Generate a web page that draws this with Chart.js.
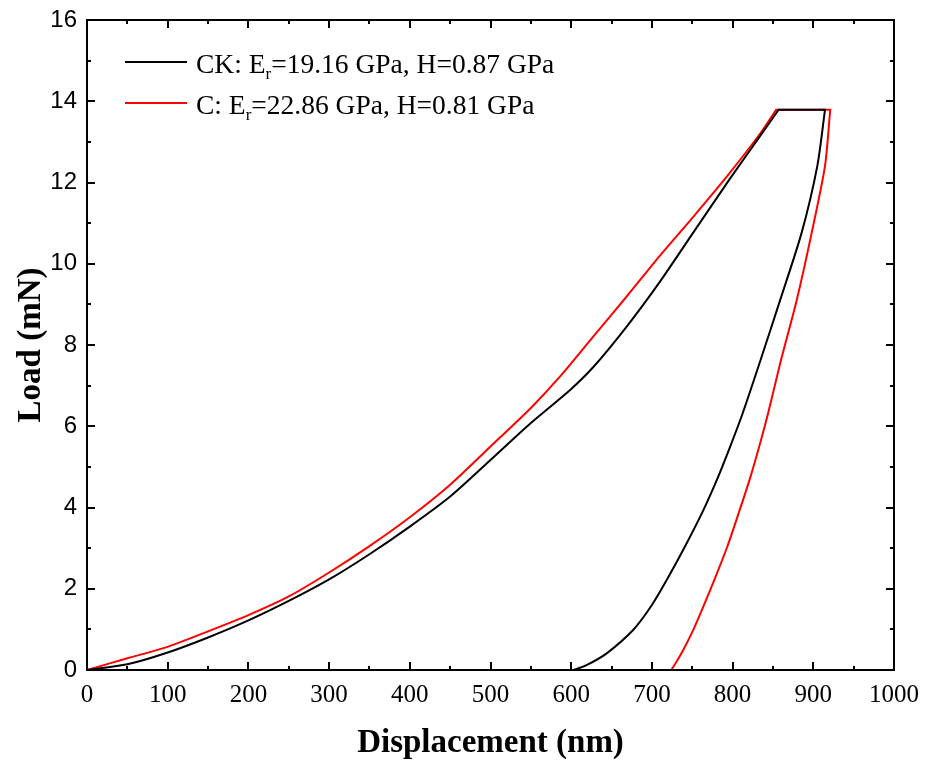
<!DOCTYPE html>
<html>
<head>
<meta charset="utf-8">
<script src="https://cdn.jsdelivr.net/npm/chart.js@4/dist/chart.umd.min.js"></script>
<style>
  body { margin: 0; background: #fff; }
  #wrap { width: 925px; height: 763px; }
</style>
</head>
<body>
<div id="wrap"><canvas id="lineChart"></canvas></div>
<script>
// CK sample: loading, hold (corner points repeated), unloading  (displacement nm / load mN)
var ckDisp = [0, 50, 100, 150, 200, 250, 300, 350, 400, 450, 500, 550, 599, 628, 669, 710, 751, 797, 834, 857, 857,
              914.5, 914.5, 905, 885.5, 859, 832, 812.5, 797, 780.5, 762, 741, 718.5, 700, 677, 644, 619, 603];
var ckLoad = [0, 0.14, 0.43, 0.8, 1.22, 1.7, 2.23, 2.85, 3.53, 4.27, 5.17, 6.08, 6.9, 7.47, 8.46, 9.56, 10.76, 12.1, 13.14, 13.79, 13.79,
              13.79, 13.79, 12.41, 10.76, 9.11, 7.47, 6.32, 5.5, 4.68, 3.86, 3.04, 2.22, 1.6, 0.99, 0.41, 0.12, 0];

// C sample
var cDisp = [0, 50, 100, 150, 200, 250, 300, 350, 400, 450, 500, 550, 586, 627, 669, 710, 751, 793, 834, 854, 854,
             921, 921, 914.5, 898, 879.5, 859, 844, 833, 821, 807.5, 793.5, 779, 765, 752, 739, 731, 724];
var cLoad = [0, 0.29, 0.57, 0.95, 1.35, 1.81, 2.4, 3.05, 3.76, 4.56, 5.5, 6.45, 7.22, 8.2, 9.2, 10.2, 11.15, 12.15, 13.2, 13.79, 13.79,
             13.79, 13.79, 12.41, 10.76, 9.11, 7.55, 6.32, 5.5, 4.68, 3.86, 3.04, 2.3, 1.62, 1.02, 0.5, 0.22, 0];

var xTicks = [0, 100, 200, 300, 400, 500, 600, 700, 800, 900, 1000];
var yTicks = [0, 2, 4, 6, 8, 10, 12, 14, 16];

// legend entries: prefix, subscript, rest
var legendItems = [
  { color: '#000000', pre: 'CK: E', sub: 'r', post: '=19.16 GPa, H=0.87 GPa' },
  { color: '#ff0000', pre: 'C: E', sub: 'r', post: '=22.86 GPa, H=0.81 GPa' }
];

function toPoints(xs, ys) {
  var pts = [];
  for (var i = 0; i < xs.length; i++) pts.push({ x: xs[i], y: ys[i] });
  return pts;
}

// frame + inward ticks on all four sides, plus the legend with subscripts
var framePlugin = {
  id: 'frame',
  afterDraw: function (chart) {
    var ctx = chart.ctx, a = chart.chartArea;
    var xs = chart.scales.x, ys = chart.scales.y;
    ctx.save();
    ctx.strokeStyle = '#000';
    ctx.lineWidth = 2;
    ctx.strokeRect(a.left, a.top, a.right - a.left, a.bottom - a.top);
    ctx.beginPath();
    for (var v = 0; v <= 1000; v += 50) {
      var px = Math.round(xs.getPixelForValue(v));
      var len = (v % 100 === 0) ? 8 : 4;
      ctx.moveTo(px, a.bottom); ctx.lineTo(px, a.bottom - len);
      ctx.moveTo(px, a.top); ctx.lineTo(px, a.top + len);
    }
    for (var w = 0; w <= 16; w += 1) {
      var py = Math.round(ys.getPixelForValue(w));
      var l2 = (w % 2 === 0) ? 8 : 4;
      ctx.moveTo(a.left, py); ctx.lineTo(a.left + l2, py);
      ctx.moveTo(a.right, py); ctx.lineTo(a.right - l2, py);
    }
    ctx.stroke();

    // legend
    var lx = 125, ly = 62;
    legendItems.forEach(function (it, i) {
      var y = ly + i * 41;
      ctx.strokeStyle = it.color;
      ctx.lineWidth = 2;
      ctx.beginPath();
      ctx.moveTo(lx, y); ctx.lineTo(lx + 62, y);
      ctx.stroke();
      ctx.fillStyle = '#000';
      ctx.textBaseline = 'alphabetic';
      ctx.textAlign = 'left';
      var tx = lx + 71, base = y + 11;
      ctx.font = '27.5px "Liberation Serif"';
      ctx.fillText(it.pre, tx, base);
      tx += ctx.measureText(it.pre).width;
      ctx.font = '17px "Liberation Serif"';
      ctx.fillText(it.sub, tx, base + 6);
      tx += ctx.measureText(it.sub).width;
      ctx.font = '27.5px "Liberation Serif"';
      ctx.fillText(it.post, tx, base);
    });
    ctx.restore();
  }
};

new Chart(document.getElementById('lineChart'), {
  type: 'scatter',
  data: {
    datasets: [
      { label: 'CK', data: toPoints(ckDisp, ckLoad), showLine: true, borderColor: '#000000',
        borderWidth: 2, pointRadius: 0, fill: false, tension: 0.25 },
      { label: 'C', data: toPoints(cDisp, cLoad), showLine: true, borderColor: '#ff0000',
        borderWidth: 2, pointRadius: 0, fill: false, tension: 0.25 }
    ]
  },
  options: {
    responsive: true,
    maintainAspectRatio: false,
    animation: false,
    layout: { padding: { left: 0, right: 31, top: 20, bottom: 0 } },
    plugins: { legend: { display: false }, tooltip: { enabled: false } },
    scales: {
      x: {
        type: 'linear', min: 0, max: 1000,
        afterBuildTicks: function (s) { s.ticks = xTicks.map(function (v) { return { value: v }; }); },
        afterFit: function (s) { s.height = 93; s.paddingLeft = 0; s.paddingRight = 0; },
        grid: { display: false, drawTicks: false },
        border: { display: false },
        ticks: { color: '#000', padding: 10, font: { family: 'Liberation Serif', size: 25 }, maxRotation: 0,
                 callback: function (v) { return String(v); } },
        title: { display: true, text: 'Displacement (nm)', color: '#000', padding: { top: 10, bottom: 0 },
                 font: { family: 'Liberation Serif', size: 33, weight: 'bold' } }
      },
      y: {
        type: 'linear', min: 0, max: 16,
        afterBuildTicks: function (s) { s.ticks = yTicks.map(function (v) { return { value: v }; }); },
        afterFit: function (s) { s.width = 87; s.paddingTop = 0; s.paddingBottom = 0; },
        grid: { display: false, drawTicks: false },
        border: { display: false },
        ticks: { color: '#000', padding: 10, font: { family: 'Liberation Sans', size: 24 },
                 callback: function (v) { return String(v); } },
        title: { display: true, text: 'Load (mN)', color: '#000', padding: { top: 12, bottom: 0 },
                 font: { family: 'Liberation Serif', size: 33, weight: 'bold' } }
      }
    }
  },
  plugins: [framePlugin]
});
</script>
</body>
</html>
